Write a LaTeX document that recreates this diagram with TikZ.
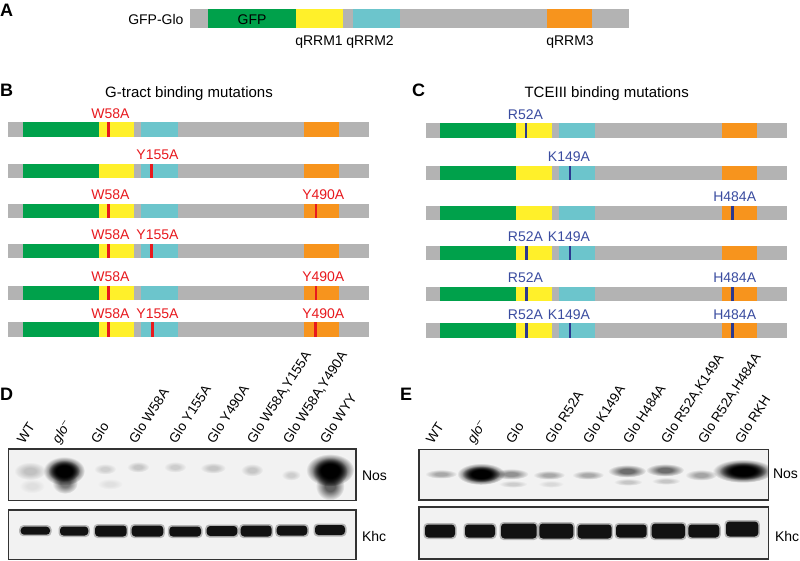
\documentclass[tikz,border=0pt]{standalone}
\usepackage{fontspec}
\setmainfont{Liberation Sans}
\usetikzlibrary{fadings}
\definecolor{pgray}{HTML}{B3B3B3}
\definecolor{pgreen}{HTML}{00A14B}
\definecolor{pyellow}{HTML}{FFF02A}
\definecolor{pcyan}{HTML}{6CC5CC}
\definecolor{porange}{HTML}{F7941D}
\definecolor{mred}{HTML}{E8191E}
\definecolor{mblue}{HTML}{2B3990}
\definecolor{lblue}{HTML}{3A4CA0}
\definecolor{blotbg}{HTML}{F2F2F2}
\definecolor{blotline}{HTML}{333333}
\pgfdeclareradialshading{softblobsh}{\pgfpointorigin}{color(0bp)=(pgftransparent!0); color(9bp)=(pgftransparent!0); color(25bp)=(pgftransparent!100); color(50bp)=(pgftransparent!100)}
\pgfdeclarefading{softblob}{\pgfuseshading{softblobsh}}
\newcommand\pbar[2]{%
  \fill[pgray] (#1,#2) rectangle (#1+360.7,#2+14.5);
  \fill[pgreen] (#1+14.4,#2) rectangle (#1+90.4,#2+14.5);
  \fill[pyellow] (#1+90.4,#2) rectangle (#1+126,#2+14.5);
  \fill[pcyan] (#1+132.7,#2) rectangle (#1+169.4,#2+14.5);
  \fill[porange] (#1+296,#2) rectangle (#1+331,#2+14.5);}
\newcommand\mutmark[5]{% color, labelcolor, x0, ytop, {markoff/labeloff/text}
  \foreach \mo/\lo/\tx in {#5}{%
    \fill[#1] (#3+\mo-1.4,#4) rectangle (#3+\mo+1.4,#4+14.5);
    \node[mlab,text=#2,anchor=base] at (#3+\lo,#4-4) {\tx};}}
\newcommand\blob[5]{% cx, cy, rx, ry, opacity
  \fill[black,opacity=#5,path fading=softblob] (#1,#2) ellipse [x radius=#3*1.6, y radius=#4*1.8];}
\newcommand\khc[4]{% x1, x2, yc, h
  \fill[black,opacity=0.25,rounded corners=4] (#1-1.5,#3-#4/2-1.5) rectangle (#2+1.5,#3+#4/2+1.5);
  \fill[black!93,rounded corners=3.5] (#1,#3-#4/2) rectangle (#2,#3+#4/2);}
\begin{document}
\begin{tikzpicture}[x=1pt,y=-1pt,
  every node/.style={inner sep=0pt,outer sep=0pt},
  lab/.style={font=\fontsize{14}{16}\selectfont},
  mlab/.style={font=\fontsize{14}{16}\selectfont},
  title/.style={font=\fontsize{15}{17}\selectfont},
  panel/.style={font=\fontsize{18}{20}\selectfont\bfseries,anchor=base west},
  lane/.style={font=\fontsize{13.5}{15}\selectfont,rotate=57,anchor=base west},
  blot/.style={fill=blotbg,draw=blotline,line width=1.3pt}]
\useasboundingbox (0,0) rectangle (800,561);
\fill[white] (0,0) rectangle (800,561);

% ---------- Panel A ----------
\node[panel] (pA) at (0,17) {A};
\fill[pgray] (190,9.3) rectangle (629,28);
\fill[pgreen] (207.7,9.3) rectangle (296,28);
\fill[pyellow] (296,9.3) rectangle (343,28);
\fill[pcyan] (353,9.3) rectangle (400,28);
\fill[porange] (546.7,9.3) rectangle (592,28);
\node[lab,anchor=base east] (gfpglo) at (183.5,24.5) {GFP-Glo};
\node[lab,anchor=base] (gfp) at (252,24.5) {GFP};
\node[lab,anchor=base] (q1) at (319,45.5) {qRRM1};
\node[lab,anchor=base] (q2) at (370,45.5) {qRRM2};
\node[lab,anchor=base] (q3) at (570,45.5) {qRRM3};

% ---------- Panel B ----------
\node[panel] (pB) at (0,97) {B};
\node[title,anchor=base] (tB) at (189,97.3) {G-tract binding mutations};
\foreach \yt in {122.3,164,204,244,285.7,322.3}{\pbar{8.3}{\yt}}
\mutmark{mred}{mred}{8.3}{122.3}{100/102.2/W58A}
\mutmark{mred}{mred}{8.3}{164}{143.2/149.2/Y155A}
\mutmark{mred}{mred}{8.3}{204}{100/102.2/W58A,307.7/315/Y490A}
\mutmark{mred}{mred}{8.3}{244}{100/102.2/W58A,143.2/149.2/Y155A}
\mutmark{mred}{mred}{8.3}{285.7}{100/102.2/W58A,307.7/315/Y490A}
\mutmark{mred}{mred}{8.3}{322.3}{100/102.2/W58A,144.4/149.2/Y155A,307/315/Y490A}

% ---------- Panel C ----------
\node[panel] (pC) at (412,97) {C};
\node[title,anchor=base] (tC) at (606.7,97.3) {TCEIII binding mutations};
\foreach \yt in {123.3,165.7,205.7,246,286.7,323.3}{\pbar{426}{\yt}}
\mutmark{mblue}{lblue}{426}{123.3}{100/99.5/R52A}
\mutmark{mblue}{lblue}{426}{165.7}{144/143/K149A}
\mutmark{mblue}{lblue}{426}{205.7}{306.7/308.7/H484A}
\mutmark{mblue}{lblue}{426}{246}{100.5/99.5/R52A,144/143/K149A}
\mutmark{mblue}{lblue}{426}{286.7}{100.5/99.5/R52A,306.7/308.7/H484A}
\mutmark{mblue}{lblue}{426}{323.3}{100.5/99.5/R52A,144/143/K149A,306.7/308.7/H484A}

% ---------- Panel D ----------
\node[panel] (pD) at (0,400) {D};
\node[lane] (d1) at (24,444) {WT};
\node[lane] (d2) at (59,444) {\itshape glo\textsuperscript{–}};
\node[lane] (d3) at (98,444) {Glo};
\node[lane] (d4) at (136,444) {Glo W58A};
\node[lane] (d5) at (176,444) {Glo Y155A};
\node[lane] (d6) at (214,444) {Glo Y490A};
\node[lane] (d7) at (254,444) {Glo W58A,Y155A};
\node[lane] (d8) at (290,444) {Glo W58A,Y490A};
\node[lane] (d9) at (327,444) {Glo WYY};
\draw[blot] (8.3,449) rectangle (356,500.7);
\draw[blot] (8.3,510) rectangle (356,559.5);
\begin{scope}
\clip (8.3,449) rectangle (356,500.7);
\blob{30}{471}{10}{5}{0.2}
\blob{32}{486}{8}{4}{0.08}
\blob{64}{471}{13}{8}{1}
\blob{64}{471}{10}{6}{1}
\blob{65}{483}{8}{6}{0.5}
\blob{105}{469}{7}{3}{0.14}
\blob{110}{484}{8}{3}{0.07}
\blob{138}{467}{7}{3}{0.18}
\blob{175}{467}{7}{3}{0.15}
\blob{213}{468}{8}{3}{0.18}
\blob{252}{470}{7}{3.5}{0.18}
\blob{291}{475}{6}{3}{0.15}
\blob{330}{470}{15}{9}{1}
\blob{330}{472}{11}{8}{1}
\blob{330}{486}{9}{8}{0.6}
\end{scope}
\draw[blotline,line width=1.3pt] (8.3,449) rectangle (356,500.7);
\khc{20.7}{50}{530.7}{8}
\khc{60}{88.3}{531}{9}
\khc{95}{126.7}{531}{11}
\khc{131.7}{163.3}{531}{11}
\khc{169.3}{201}{531.5}{10}
\khc{206.7}{237.3}{531}{10}
\khc{240.7}{271.7}{531}{11}
\khc{276.7}{307.3}{530.5}{10}
\khc{315}{345}{530}{10}
\node[lab,anchor=base west] (nosD) at (362,480) {Nos};
\node[lab,anchor=base west] (khcD) at (362,541.5) {Khc};

% ---------- Panel E ----------
\node[panel] (pE) at (400,400) {E};
\node[lane] (e1) at (433,444) {WT};
\node[lane] (e2) at (474,444) {\itshape glo\textsuperscript{–}};
\node[lane] (e3) at (513,444) {Glo};
\node[lane] (e4) at (552,444) {Glo R52A};
\node[lane] (e5) at (590,444) {Glo K149A};
\node[lane] (e6) at (630,444) {Glo H484A};
\node[lane] (e7) at (668,444) {Glo R52A,K149A};
\node[lane] (e8) at (705,444) {Glo R52A,H484A};
\node[lane] (e9) at (742,444) {Glo RKH};
\draw[blot] (419,449.3) rectangle (768.3,500);
\draw[blot] (419,507) rectangle (768.3,559);
\begin{scope}
\clip (419,449.3) rectangle (768.3,500);
\blob{441}{474}{10}{2.5}{0.3}
\blob{481}{474}{15}{6}{1}
\blob{481}{474}{12}{4.5}{1}
\blob{511}{474}{11}{3}{0.4}
\blob{513}{484}{9}{2}{0.15}
\blob{549}{475}{10}{2.5}{0.3}
\blob{551}{484}{8}{2}{0.1}
\blob{588}{475}{10}{2.5}{0.3}
\blob{627}{471}{12}{3.5}{0.55}
\blob{628}{482}{9}{2}{0.18}
\blob{665}{470}{12}{3.5}{0.55}
\blob{666}{481}{9}{2}{0.18}
\blob{701}{475}{10}{3}{0.32}
\blob{743}{471}{19}{6.5}{1}
\blob{743}{471}{15}{5}{1}
\end{scope}
\khc{425}{455}{531}{13}
\khc{465}{495}{531}{13}
\khc{501}{536.7}{531}{15}
\khc{539.3}{573.3}{531}{15}
\khc{577.7}{611.7}{531.5}{14}
\khc{616}{646.7}{531}{13}
\khc{651.7}{685}{531}{15}
\khc{688.3}{719.3}{531}{13}
\khc{726}{758.3}{529}{15}
\node[lab,anchor=base west] (nosE) at (773,478.5) {Nos};
\node[lab,anchor=base west] (khcE) at (775,541.5) {Khc};
\end{tikzpicture}
\end{document}
